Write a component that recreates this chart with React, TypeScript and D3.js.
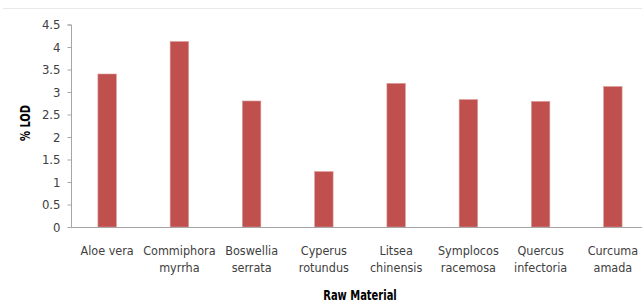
import { useEffect, useRef } from 'react';
import * as d3 from 'd3';

// raw material names (two-line labels) and % LOD values
const materials = [
  ['Aloe vera'],
  ['Commiphora', 'myrrha'],
  ['Boswellia', 'serrata'],
  ['Cyperus', 'rotundus'],
  ['Litsea', 'chinensis'],
  ['Symplocos', 'racemosa'],
  ['Quercus', 'infectoria'],
  ['Curcuma', 'amada'],
];
const lodValues = [3.4, 4.12, 2.8, 1.23, 3.19, 2.83, 2.79, 3.12];
const yTicks = [0, 0.5, 1, 1.5, 2, 2.5, 3, 3.5, 4, 4.5];

const FONT = '"DejaVu Sans Condensed", "DejaVu Sans", sans-serif';

export default function App() {
  const svgRef = useRef<SVGSVGElement>(null);

  useEffect(() => {
    if (!svgRef.current) return;
    const svg = d3.select(svgRef.current);
    svg.selectAll('*').remove();

    const width = 642;
    const height = 303;
    const margin = { top: 24.5, left: 71, bottom: 76, right: -7 };

    const x = d3.scaleBand<number>()
      .domain(d3.range(materials.length))
      .range([margin.left, width - margin.right])
      .paddingInner(0.745)
      .paddingOuter(0.3725);

    const y = d3.scaleLinear()
      .domain([0, 4.5])
      .range([height - margin.bottom, margin.top]);

    // chart frame top edge
    svg.append('line')
      .attr('x1', 3).attr('x2', width)
      .attr('y1', 8.5).attr('y2', 8.5)
      .attr('stroke', '#e8e8e8');

    // bars
    svg.append('g')
      .selectAll('rect')
      .data(lodValues)
      .join('rect')
      .attr('x', (_, i) => x(i)!)
      .attr('width', x.bandwidth())
      .attr('y', d => y(d))
      .attr('height', d => y(0) - y(d))
      .attr('fill', '#c0504d')
      .attr('stroke', '#d99694')
      .attr('stroke-width', 0.6);

    // y axis
    const yAxis = svg.append('g')
      .attr('transform', `translate(${margin.left + 0.5},0)`)
      .call(d3.axisLeft(y).tickValues(yTicks).tickSize(4).tickPadding(7).tickFormat(d => String(d)));
    yAxis.select('.domain').attr('stroke', '#a6a6a6').attr('d', `M-4,${y(4.5) + 0.5}H0V${y(0)}`);
    yAxis.selectAll('.tick line').attr('stroke', '#a6a6a6');
    yAxis.selectAll('.tick text')
      .attr('fill', '#404040')
      .attr('font-family', FONT)
      .attr('font-size', 13);

    // x axis line
    svg.append('line')
      .attr('x1', margin.left).attr('x2', width)
      .attr('y1', y(0) + 0.5).attr('y2', y(0) + 0.5)
      .attr('stroke', '#a6a6a6');

    // x tick labels
    const labels = svg.append('g')
      .selectAll('text')
      .data(materials)
      .join('text')
      .attr('x', (_, i) => x(i)! + x.bandwidth() / 2)
      .attr('y', 255)
      .attr('text-anchor', 'middle')
      .attr('fill', '#404040')
      .attr('font-family', FONT)
      .attr('font-size', 12.5);
    labels.each(function (lines) {
      const t = d3.select(this);
      lines.forEach((ln, k) => {
        t.append('tspan')
          .attr('x', t.attr('x'))
          .attr('dy', k === 0 ? 0 : 16.5)
          .text(ln);
      });
    });

    // axis titles (squeezed horizontally to mimic the narrow original face)
    svg.append('text')
      .attr('transform', 'translate(360,300) scale(0.82,1)')
      .attr('text-anchor', 'middle')
      .attr('fill', '#000')
      .attr('font-family', FONT)
      .attr('font-weight', 'bold')
      .attr('font-size', 13.5)
      .text('Raw Material');

    svg.append('text')
      .attr('transform', 'translate(30,123) rotate(-90) scale(0.82,1)')
      .attr('text-anchor', 'middle')
      .attr('fill', '#000')
      .attr('font-family', FONT)
      .attr('font-weight', 'bold')
      .attr('font-size', 13.5)
      .text('% LOD');
  }, []);

  return (
    <svg
      ref={svgRef}
      width={642}
      height={303}
      style={{ position: 'absolute', left: 0, top: 0, background: '#fff' }}
    />
  );
}
